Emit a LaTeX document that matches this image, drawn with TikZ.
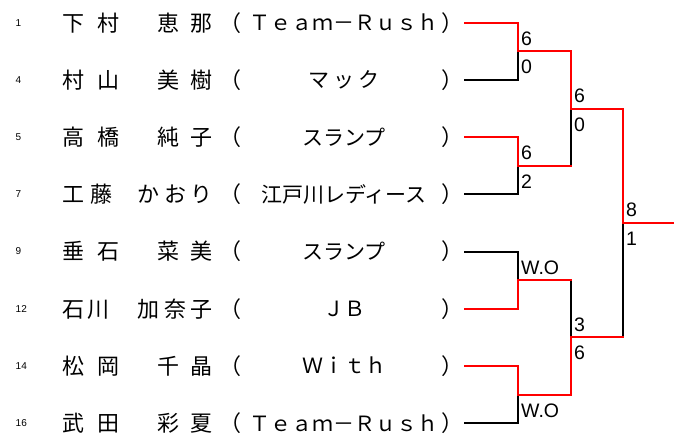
\documentclass[tikz,border=0pt]{standalone}
\usepackage{fontspec}
\newfontfamily\jpfont{Noto Sans CJK JP}
\newfontfamily\numfont{Liberation Sans}
\begin{document}
\begin{tikzpicture}[x=1pt,y=-1pt,
  pname/.style={font=\jpfont\fontsize{22}{22}\selectfont, inner sep=0, text height=19pt, text depth=2.2pt},
  team/.style={font=\jpfont\fontsize{21}{21}\selectfont, inner sep=0, text height=18pt, text depth=2pt},
  seed/.style={font=\numfont\fontsize{10}{10}\selectfont, inner sep=0, anchor=west},
  score/.style={font=\numfont\fontsize{19.5}{19.5}\selectfont, inner sep=0, anchor=base west},
  win/.style={draw=red, line width=2pt, line cap=rect},
  lose/.style={draw=black, line width=2pt, line cap=rect}]
\useasboundingbox (0,0) rectangle (674,439);
% Players
\foreach \i/\sd/\fam/\giv/\tm in {
  1/1/{下\hspace{13pt}村}/{恵\hspace{11.5pt}那}/{Ｔｅａｍ－Ｒｕｓｈ},
  2/4/{村\hspace{13pt}山}/{美\hspace{11.5pt}樹}/{マ\hspace{4.5pt}ッ\hspace{4.5pt}ク},
  3/5/{高\hspace{13pt}橋}/{純\hspace{11.5pt}子}/{スランプ},
  4/7/{工\hspace{6pt}藤}/{か\hspace{4.5pt}お\hspace{4.5pt}り}/{江戸川レディース},
  5/9/{垂\hspace{13pt}石}/{菜\hspace{11.5pt}美}/{スランプ},
  6/12/{石\hspace{3pt}川}/{加\hspace{4.5pt}奈\hspace{4.5pt}子}/{ＪＢ},
  7/14/{松\hspace{13pt}岡}/{千\hspace{11.5pt}晶}/{Ｗｉｔｈ},
  8/16/{武\hspace{13pt}田}/{彩\hspace{11.5pt}夏}/{Ｔｅａｍ－Ｒｕｓｈ}} {
  \pgfmathsetmacro{\yy}{22.7+57.2*(\i-1)}
  \node[seed] (n\i) at (15.5,\yy) {\sd};
  \node[pname, anchor=west] (fam\i) at (62,\yy) {\fam};
  \node[pname, anchor=east] (giv\i) at (213,\yy) {\giv};
  \node[pname, anchor=east] (lp\i) at (242,\yy) {（};
  \node[team] (tm\i) at (344,\yy) {\tm};
  \node[pname, anchor=west] (rp\i) at (441,\yy) {）};
  \coordinate (p\i) at (465,\yy);
}
% Junctions
\coordinate (q1) at (518,51.3);
\coordinate (q2) at (518,165.7);
\coordinate (q3) at (518,280.1);
\coordinate (q4) at (518,394.5);
\coordinate (s1) at (571,108.5);
\coordinate (s2) at (571,337.3);
\coordinate (f) at (623,222.9);
\coordinate (champ) at (674,222.9);
% Losing lines
\draw[lose] (p2) -| (q1);
\draw[lose] (p4) -| (q2);
\draw[lose] (p5) -| (q3);
\draw[lose] (p8) -| (q4);
\draw[lose] (q2 -| s1) -- (s1);
\draw[lose] (q3 -| s2) -- (s2);
\draw[lose] (s2 -| f) -- (f);
% Winning lines
\draw[win] (p1) -| (q1);
\draw[win] (p3) -| (q2);
\draw[win] (p6) -| (q3);
\draw[win] (p7) -| (q4);
\draw[win] (q1) -| (s1);
\draw[win] (q2) -- (q2 -| s1);
\draw[win] (q3) -- (q3 -| s2);
\draw[win] (q4) -| (s2);
\draw[win] (s1) -| (f);
\draw[win] (s2) -- (s2 -| f);
\draw[win] (f) -- (champ);
% Scores
\foreach \j/\up/\dn in {q1/6/0, q2/6/2, s1/6/0, f/8/1, s2/3/6, q3/W.O/, q4//W.O} {
  \node[score] (\j up) at ([xshift=3pt,yshift=6pt]\j) {\up};
  \node[score] (\j dn) at ([xshift=3pt,yshift=-22.5pt]\j) {\dn};
}
\end{tikzpicture}
\end{document}
